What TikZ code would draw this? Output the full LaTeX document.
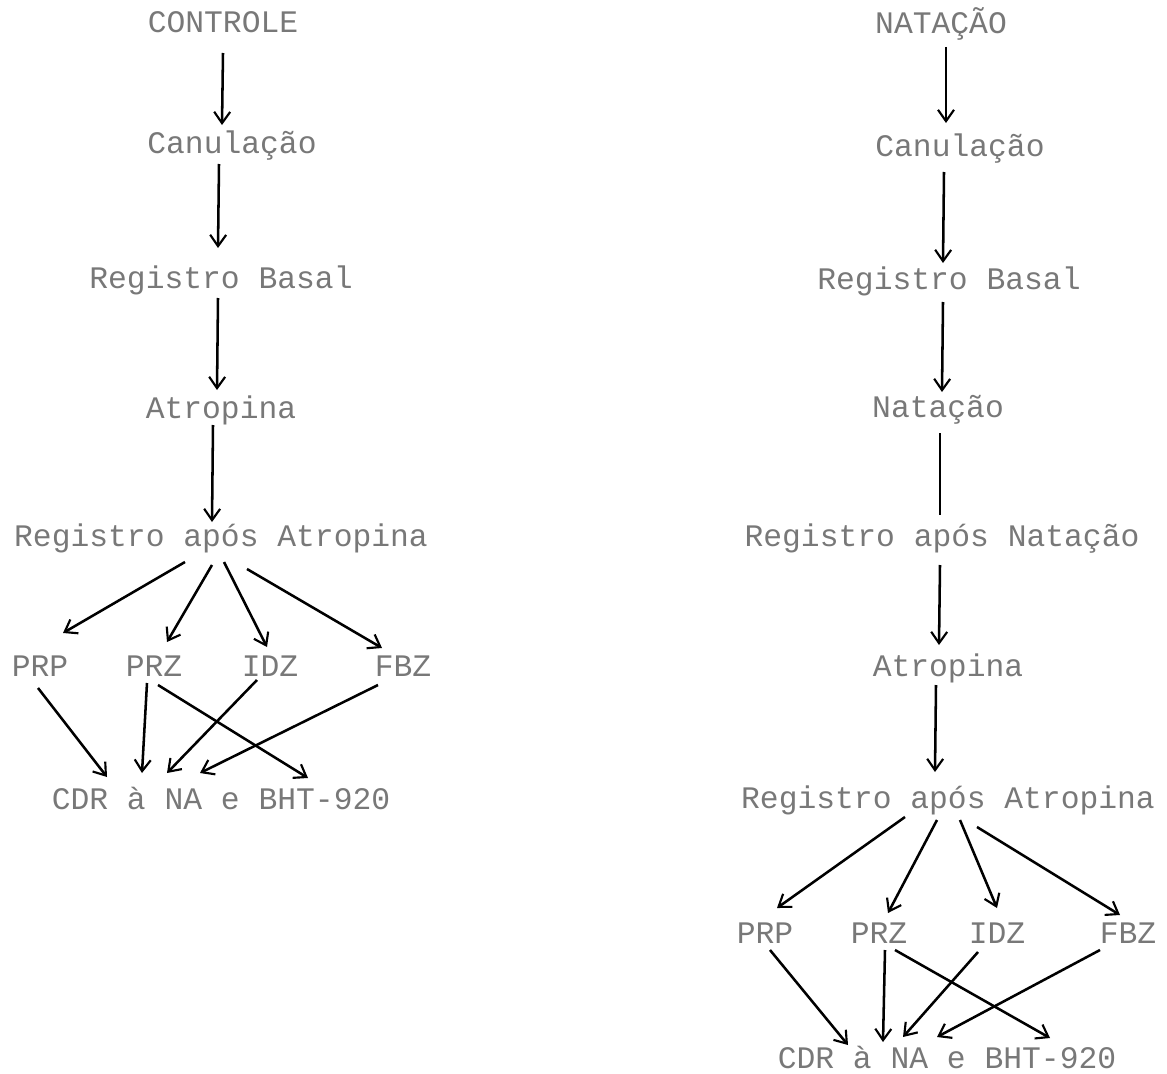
\documentclass[tikz,border=0pt]{standalone}
\definecolor{printgray}{RGB}{120, 120, 120}
\usepackage{fontspec}
\setmonofont{Liberation Mono}
\usepackage{tikz}
\usetikzlibrary{arrows.meta, positioning}

\begin{document}
\begin{tikzpicture}[x=0.75pt, y=-0.75pt,
  etapa/.style={inner sep=0pt, text=printgray, font=\ttfamily\fontsize{23.5}{26}\selectfont},
  seta/.style={line width=1.9pt, -{Straight Barb[length=8.5pt, width=12pt, line width=1.6pt]}},
  traco/.style={line width=1.9pt}]
  \useasboundingbox (0,0) rectangle (1167,1074);

  % controle
  \node[etapa] (con) at (223,22) {CONTROLE};
  \node[etapa] (can1) at (232,146) {Canulação};
  \node[etapa] (rb1) at (221,280) {Registro Basal};
  \node[etapa] (at1) at (221,410) {Atropina};
  \node[etapa] (ra1) at (221,538) {Registro após Atropina};
  \node[etapa] (prp1) at (40,666) {PRP};
  \node[etapa] (prz1) at (154,666) {PRZ};
  \node[etapa] (idz1) at (270,666) {IDZ};
  \node[etapa] (fbz1) at (403,666) {FBZ};
  \node[etapa] (cdr1) at (221,798) {CDR à NA e BHT-920};

  \draw[seta] ([shift={(0,31)}]con.center) -- ([shift={(-10,-21)}]can1.center);
  \draw[seta] ([shift={(-13,18)}]can1.center) -- ([shift={(-3,-32)}]rb1.center);
  \draw[seta] ([shift={(-3,18)}]rb1.center) -- ([shift={(-4,-20)}]at1.center);
  \draw[seta] ([shift={(-8,15)}]at1.center) -- ([shift={(-9,-16)}]ra1.center);

  \draw[seta] ([shift={(-36,24)}]ra1.center) -- ([shift={(23,-33)}]prp1.center);
  \draw[seta] ([shift={(-9,27)}]ra1.center) -- ([shift={(13,-24)}]prz1.center);
  \draw[seta] ([shift={(3,24)}]ra1.center) -- ([shift={(-3,-19)}]idz1.center);
  \draw[seta] ([shift={(26,31)}]ra1.center) -- ([shift={(-21,-18)}]fbz1.center);

  \draw[seta] ([shift={(-2,22)}]prp1.center) -- ([shift={(-114,-21)}]cdr1.center);
  \draw[seta] ([shift={(-7,17)}]prz1.center) -- ([shift={(-79,-25)}]cdr1.center);
  \draw[seta] ([shift={(4,19)}]prz1.center) -- ([shift={(87,-20)}]cdr1.center);
  \draw[seta] ([shift={(-13,14)}]idz1.center) -- ([shift={(-54,-25)}]cdr1.center);
  \draw[seta] ([shift={(-25,19)}]fbz1.center) -- ([shift={(-21,-25)}]cdr1.center);

  % natacao
  \node[etapa] (nat) at (941,24) {NATAÇÃO};
  \node[etapa] (can2) at (960,149) {Canulação};
  \node[etapa] (rb2) at (949,281) {Registro Basal};
  \node[etapa] (nt2) at (938,410) {Natação};
  \node[etapa] (rn2) at (942,539) {Registro após Natação};
  \node[etapa] (at2) at (948,668) {Atropina};
  \node[etapa] (ra2) at (948,800) {Registro após Atropina};
  \node[etapa] (prp2) at (765,933) {PRP};
  \node[etapa] (prz2) at (879,933) {PRZ};
  \node[etapa] (idz2) at (997,933) {IDZ};
  \node[etapa] (fbz2) at (1128,933) {FBZ};
  \node[etapa] (cdr2) at (947,1057) {CDR à NA e BHT-920};

  \draw[seta] ([shift={(5,23)}]nat.center) -- ([shift={(-14,-26)}]can2.center);
  \draw[seta] ([shift={(-16,23)}]can2.center) -- ([shift={(-6,-18)}]rb2.center);
  \draw[seta] ([shift={(-6,21)}]rb2.center) -- ([shift={(4,-18)}]nt2.center);
  \draw[traco] ([shift={(2,23)}]nt2.center) -- ([shift={(-2,-24)}]rn2.center);
  \draw[seta] ([shift={(-2,26)}]rn2.center) -- ([shift={(-9,-23)}]at2.center);
  \draw[seta] ([shift={(-12,17)}]at2.center) -- ([shift={(-13,-28)}]ra2.center);

  \draw[seta] ([shift={(-43,17)}]ra2.center) -- ([shift={(12,-25)}]prp2.center);
  \draw[seta] ([shift={(-11,20)}]ra2.center) -- ([shift={(9,-20)}]prz2.center);
  \draw[seta] ([shift={(12,20)}]ra2.center) -- ([shift={(0,-25)}]idz2.center);
  \draw[seta] ([shift={(29,27)}]ra2.center) -- ([shift={(-8,-18)}]fbz2.center);

  \draw[seta] ([shift={(5,17)}]prp2.center) -- ([shift={(-99,-12)}]cdr2.center);
  \draw[seta] ([shift={(6,17)}]prz2.center) -- ([shift={(-64,-15)}]cdr2.center);
  \draw[seta] ([shift={(16,17)}]prz2.center) -- ([shift={(103,-19)}]cdr2.center);
  \draw[seta] ([shift={(-19,19)}]idz2.center) -- ([shift={(-44,-20)}]cdr2.center);
  \draw[seta] ([shift={(-28,17)}]fbz2.center) -- ([shift={(-10,-20)}]cdr2.center);
\end{tikzpicture}
\end{document}
